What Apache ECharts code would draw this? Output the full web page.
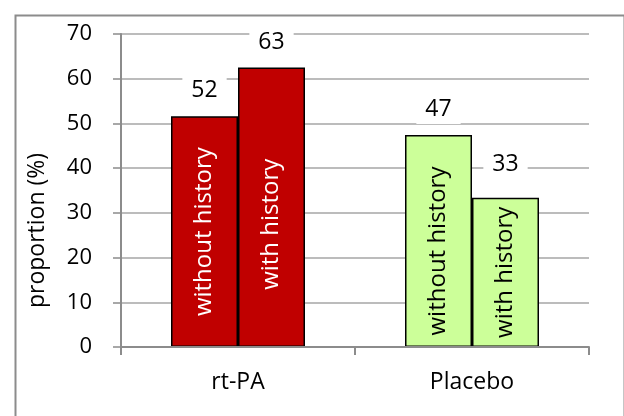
<!DOCTYPE html>
<html><head><meta charset="utf-8">
<script src="https://cdn.jsdelivr.net/npm/echarts@6/dist/echarts.min.js"></script>
<style>html,body{margin:0;padding:0;background:#fff}#c{width:624px;height:416px}</style>
</head><body><div id="c"></div>
<script>
const categories = ['rt-PA', 'Placebo'];
const withoutHistory = [51.6, 47.4];
const withHistory = [62.5, 33.4];
const seriesNames = ['without history', 'with history'];
const yTicks = [0, 10, 20, 30, 40, 50, 60, 70];

const barColors = ['#C00000', '#CCFF99'];
const innerTextColors = ['#ffffff', '#000000'];
const FONT = 'Open Sans';
const chart = echarts.init(document.getElementById('c'), null, {renderer: 'canvas'});

function mkSeries(name, values, offsets) {
  return {
    name: name,
    type: 'bar',
    xAxisIndex: 0,
    barWidth: 67,
    barGap: '0%',
    data: values.map((v, i) => ({
      value: v,
      itemStyle: {color: barColors[i], borderColor: '#000', borderWidth: 1.5},
      label: {color: innerTextColors[i], offset: offsets[i]}
    })),
    label: {
      show: true, position: 'inside', rotate: 90,
      formatter: name, fontFamily: FONT, fontSize: 24
    },
    z: 3
  };
}
function topLabels(values, offsets) {
  return {
    type: 'bar', xAxisIndex: 1, barWidth: 67, barGap: '0%',
    data: values.map((v, i) => ({value: v, label: {offset: offsets[i]}})),
    itemStyle: {color: 'rgba(0,0,0,0)'},
    silent: true,
    label: {
      show: true, position: 'top', distance: 11,
      formatter: p => String(Math.round(p.value)),
      color: '#000', fontFamily: FONT, fontSize: 23,
      backgroundColor: '#fff', padding: [3, 9]
    },
    z: 2
  };
}

chart.setOption({
  animation: false,
  grid: {left: 121, right: 35, top: 34, bottom: 69, containLabel: false},
  xAxis: [{
    type: 'category', data: categories,
    axisLine: {lineStyle: {color: '#8c8c8c', width: 2}},
    axisTick: {show: true, length: 8, lineStyle: {color: '#8c8c8c', width: 2}},
    axisLabel: {margin: 24, color: '#000', fontFamily: FONT, fontSize: 23},
    splitLine: {show: false}, z: 5
  }, {
    type: 'category', data: categories, show: false
  }],
  yAxis: {
    type: 'value', min: 0, max: 70, interval: 10,
    name: 'proportion (%)', nameLocation: 'middle', nameGap: 72,
    nameRotate: 90,
    nameTextStyle: {color: '#000', fontFamily: FONT, fontSize: 23, padding: [0, 80, 0, 0]},
    axisLine: {show: true, lineStyle: {color: '#8c8c8c', width: 2}},
    axisTick: {show: true, length: 8, lineStyle: {color: '#8c8c8c', width: 1.5}},
    axisLabel: {margin: 29, color: '#000', fontFamily: FONT, fontSize: 22,
      formatter: v => yTicks.includes(v) ? String(v) : ''},
    splitLine: {lineStyle: {color: '#a6a6a6', width: 1.5}}
  },
  graphic: [{
    type: 'rect', left: 13, top: 13, silent: true, z: -1,
    shape: {width: 609, height: 430},
    style: {fill: 'none', stroke: '#8c8c8c', lineWidth: 2}
  }],
  series: [
    topLabels(withoutHistory, [[0, 0], [0, 0]]),
    topLabels(withHistory, [[0, 0], [0, -8]]),
    mkSeries(seriesNames[0], withoutHistory, [[0, 0], [-10, 0]]),
    mkSeries(seriesNames[1], withHistory, [[-17, 0], [0, 0]])
  ]
});
</script></body></html>
